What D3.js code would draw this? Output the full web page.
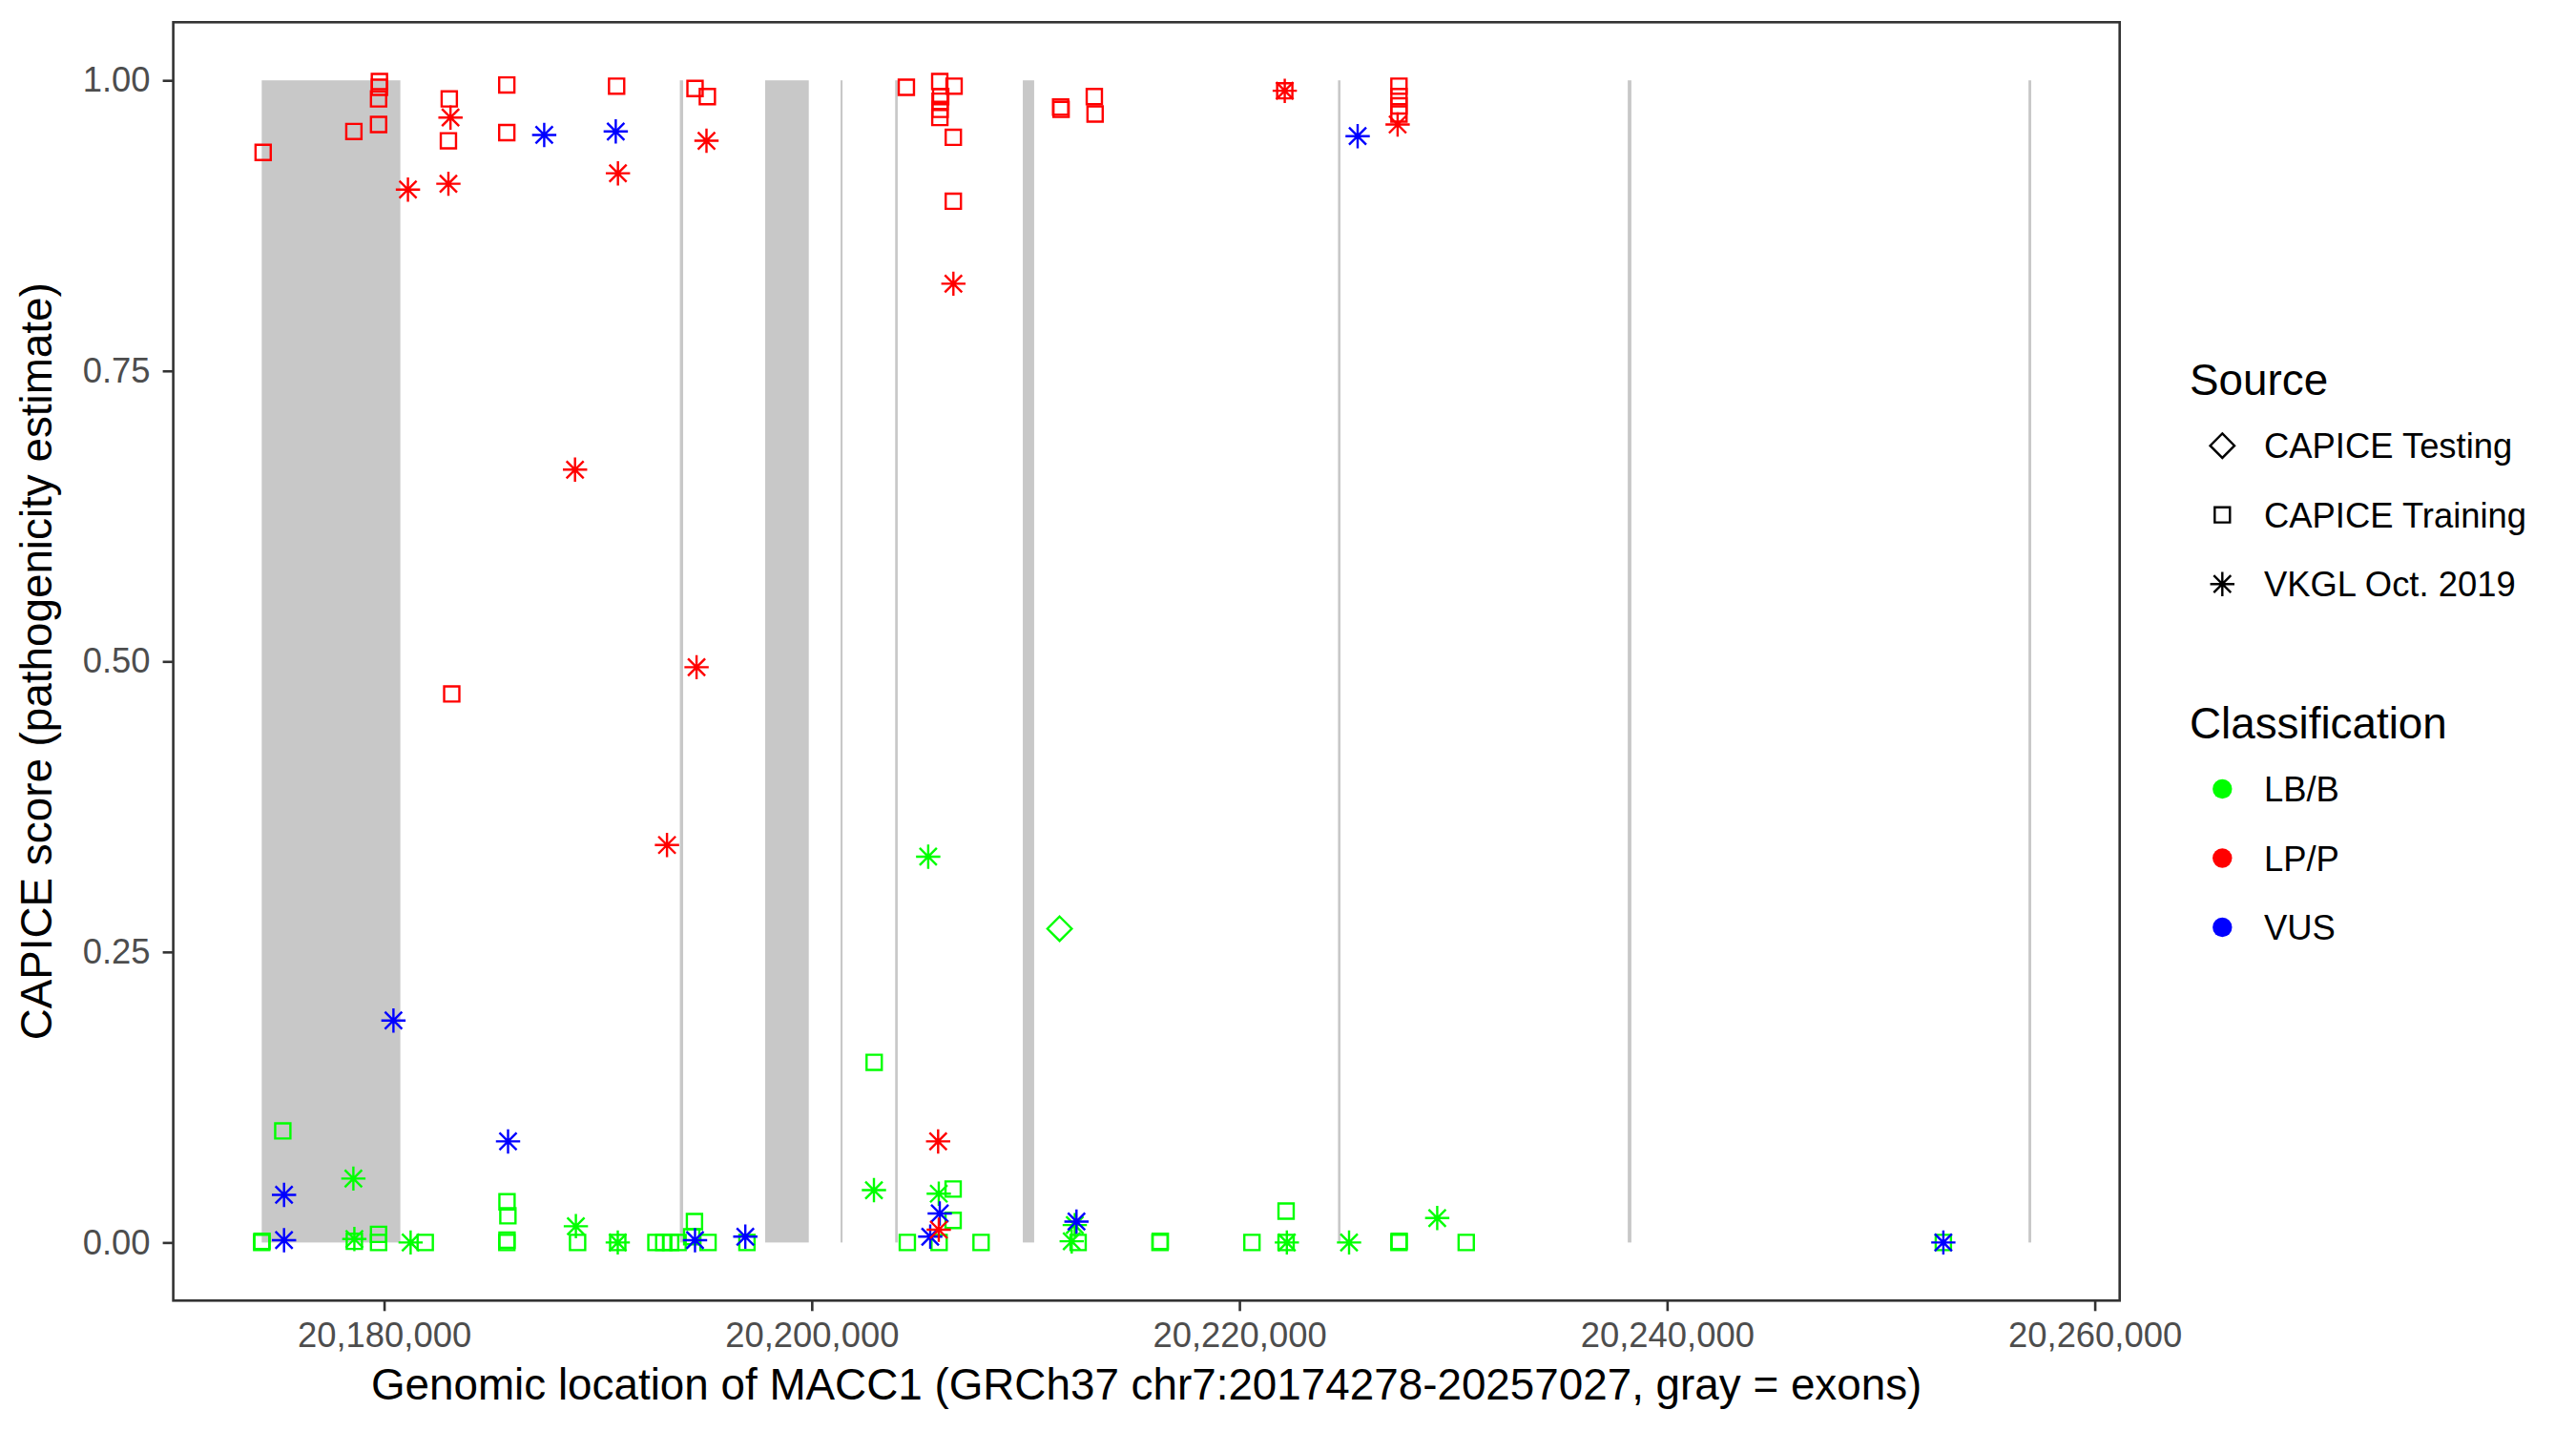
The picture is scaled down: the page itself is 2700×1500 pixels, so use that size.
<!DOCTYPE html>
<html>
<head>
<meta charset="utf-8">
<script src="https://cdn.jsdelivr.net/npm/d3@7"></script>
<style>
	body { margin: 0; background: #fff; }
	text { font-family: "Liberation Sans", Arial, Helvetica, sans-serif; }
</style>
</head>
<body>
<div id="chart"></div>
<script>

// gene region and exons (GRCh37 chr7)
var geneStart = 20174278, geneEnd = 20257027;
var exonStart = [20174278, 20193830, 20197820, 20201345, 20203900, 20209870, 20224610, 20238160, 20256900];
var exonEnd   = [20180760, 20193985, 20199860, 20201440, 20204020, 20210400, 20224725, 20238330, 20257027];

var xTicks = [20180000, 20200000, 20220000, 20240000, 20260000];
var yTicks = [0, 0.25, 0.5, 0.75, 1];

var sources = ["CAPICE Testing", "CAPICE Training", "VKGL Oct. 2019"];
var classes = ["LB/B", "LP/P", "VUS"];

// [position, CAPICE score]
var lbTraining = [
	[20174277, 0.000], [20174290, 0.001], [20175263, 0.096], [20178609, 0.001], [20179742, 0.007],
	[20179742, 0.000], [20181924, 0.000], [20185748, 0.035], [20185790, 0.023], [20185748, 0.002],
	[20185740, 0.000], [20189049, 0.000], [20190928, 0.000], [20192713, 0.000], [20193078, 0.000],
	[20193400, 0.000], [20193748, 0.000], [20194515, 0.018], [20194386, 0.005], [20195149, 0.000],
	[20196969, 0.000], [20202919, 0.155], [20204469, 0.000], [20205955, 0.000], [20206611, 0.046],
	[20206611, 0.019], [20207918, 0.000], [20212456, 0.000], [20216284, 0.000], [20216300, 0.001],
	[20220585, 0.000], [20222182, 0.027], [20222182, 0.000], [20227460, 0.000], [20227470, 0.001],
	[20230606, 0.000], [20252919, 0.000]
];
var lbTesting = [[20211590, 0.270]];
var lbVkgl = [
	[20178564, 0.055], [20178610, 0.003], [20181241, 0.000], [20188969, 0.014], [20190928, 0.000],
	[20202908, 0.045], [20205446, 0.332], [20205940, 0.042], [20212157, 0.001], [20212300, 0.015],
	[20222218, 0.000], [20225127, 0.000], [20229250, 0.021]
];
var lpTraining = [
	[20174344, 0.938], [20178587, 0.956], [20179742, 0.962], [20179742, 0.984], [20179782, 0.999],
	[20179782, 0.994], [20183048, 0.984], [20183008, 0.948], [20183164, 0.472], [20185738, 0.996],
	[20185738, 0.955], [20190874, 0.995], [20194541, 0.993], [20195117, 0.986], [20204424, 0.994],
	[20205986, 0.999], [20206655, 0.995], [20206030, 0.986], [20206000, 0.982], [20206000, 0.975],
	[20205990, 0.968], [20206620, 0.951], [20206620, 0.896], [20211639, 0.977], [20211660, 0.975],
	[20213214, 0.986], [20213250, 0.971], [20222120, 0.991], [20227460, 0.995], [20227460, 0.986],
	[20227460, 0.978], [20227460, 0.971]
];
var lpVkgl = [
	[20183106, 0.968], [20181116, 0.906], [20183008, 0.911], [20190936, 0.920], [20195077, 0.948],
	[20188929, 0.665], [20194613, 0.495], [20193230, 0.342], [20206624, 0.825], [20222120, 0.991],
	[20227398, 0.962], [20205910, 0.087], [20205940, 0.011]
];
var vusVkgl = [
	[20187488, 0.953], [20190834, 0.956], [20225528, 0.952], [20180438, 0.191], [20175321, 0.041],
	[20175321, 0.002], [20185797, 0.087], [20194541, 0.002], [20196893, 0.005], [20205986, 0.025],
	[20205540, 0.005], [20212380, 0.018], [20252919, 0.000]
];


var width = 2700, height = 1500,
	panel = {left: 181.6, right: 2221.7, top: 23.3, bottom: 1363.3},
	R = 9, stroke = 2.4,
	fontBig = 45.8, fontSmall = 36.4;

var colorScale = d3.scaleOrdinal().domain(classes).range(["#00ff00", "#ff0000", "#0000ff"]);

// R pch shapes 5 (diamond), 0 (square), 8 (asterisk)
var pchDiamond = { draw: function(c, s) {
	var r = Math.SQRT2 * R;
	c.moveTo(0, -r); c.lineTo(r, 0); c.lineTo(0, r); c.lineTo(-r, 0); c.closePath();
}};
var pchSquare = { draw: function(c, s) {
	var r = 0.886 * R;
	c.moveTo(-r, -r); c.lineTo(r, -r); c.lineTo(r, r); c.lineTo(-r, r); c.closePath();
}};
var pchStar = { draw: function(c, s) {
	var d = R, r = Math.SQRT2 * R;
	c.moveTo(-d, -d); c.lineTo(d, d);
	c.moveTo(-d, d); c.lineTo(d, -d);
	c.moveTo(-r, 0); c.lineTo(r, 0);
	c.moveTo(0, -r); c.lineTo(0, r);
}};
var shapeScale = d3.scaleOrdinal().domain(sources).range([pchDiamond, pchSquare, pchStar]);

var pad = (geneEnd - geneStart) * 0.05;
var x = d3.scaleLinear().domain([geneStart - pad, geneEnd + pad]).range([panel.left, panel.right]);
var y = d3.scaleLinear().domain([-0.05, 1.05]).range([panel.bottom, panel.top]);

var svg = d3.select("#chart").append("svg")
	.attr("width", width)
	.attr("height", height);

svg.append("rect").attr("width", width).attr("height", height).attr("fill", "#fff");

// exons
svg.append("g").selectAll("rect")
	.data(exonStart.map(function(d, i) { return [d, exonEnd[i]]; }))
	.enter().append("rect")
		.attr("x", function(d) { return x(d[0]); })
		.attr("y", y(1))
		.attr("width", function(d) { return x(d[1]) - x(d[0]); })
		.attr("height", y(0) - y(1))
		.attr("fill", "#c8c8c8");

// points
var series = [
	{data: lbTraining, cls: "LB/B", src: "CAPICE Training"},
	{data: lpTraining, cls: "LP/P", src: "CAPICE Training"},
	{data: lbTesting, cls: "LB/B", src: "CAPICE Testing"},
	{data: lbVkgl, cls: "LB/B", src: "VKGL Oct. 2019"},
	{data: vusVkgl, cls: "VUS", src: "VKGL Oct. 2019"},
	{data: lpVkgl, cls: "LP/P", src: "VKGL Oct. 2019"}
];

series.forEach(function(s) {
	svg.append("g").selectAll("path")
		.data(s.data)
		.enter().append("path")
			.attr("transform", function(d) { return "translate(" + x(d[0]) + "," + y(d[1]) + ")"; })
			.attr("d", d3.symbol().type(shapeScale(s.src)))
			.attr("fill", "none")
			.attr("stroke", colorScale(s.cls))
			.attr("stroke-width", stroke);
});

// panel border
svg.append("rect")
	.attr("x", panel.left).attr("y", panel.top)
	.attr("width", panel.right - panel.left).attr("height", panel.bottom - panel.top)
	.attr("fill", "none").attr("stroke", "#333333").attr("stroke-width", 2.6);

// axes
var xAxis = svg.append("g")
	.attr("transform", "translate(0," + panel.bottom + ")")
	.call(d3.axisBottom(x).tickValues(xTicks).tickFormat(d3.format(",")).tickSize(11).tickPadding(11.4));

var yAxis = svg.append("g")
	.attr("transform", "translate(" + panel.left + ",0)")
	.call(d3.axisLeft(y).tickValues(yTicks).tickFormat(d3.format(".2f")).tickSize(11).tickPadding(13));

[xAxis, yAxis].forEach(function(a) {
	a.select(".domain").remove();
	a.selectAll(".tick line").attr("stroke", "#333333").attr("stroke-width", 2.6);
	a.selectAll(".tick text")
		.attr("fill", "#4d4d4d")
		.style("font-size", fontSmall + "px")
		.style("font-family", "'Liberation Sans', Arial, sans-serif");
});

// axis titles
svg.append("text")
	.attr("x", (panel.left + panel.right) / 2)
	.attr("y", 1467)
	.attr("text-anchor", "middle")
	.style("font-size", fontBig + "px")
	.text("Genomic location of MACC1 (GRCh37 chr7:20174278-20257027, gray = exons)");

svg.append("text")
	.attr("transform", "translate(54," + ((panel.top + panel.bottom) / 2) + ") rotate(-90)")
	.attr("text-anchor", "middle")
	.style("font-size", fontBig + "px")
	.text("CAPICE score (pathogenicity estimate)");

// legends
var legendX = 2295, keyX = 2329.3, labelX = 2373, rowGap = 72.5;

function addLegend(title, titleY, items, drawKey) {

	var g = svg.append("g").attr("class", "legend");

	g.append("text")
		.attr("x", legendX).attr("y", titleY)
		.style("font-size", fontBig + "px")
		.text(title);

	var item = g.selectAll(".legend-item")
		.data(items)
		.enter().append("g")
			.attr("class", "legend-item")
			.attr("transform", function(d, i) { return "translate(0," + (titleY + 53.5 + i * rowGap) + ")"; });

	drawKey(item);

	item.append("text")
		.attr("x", labelX).attr("y", 13)
		.style("font-size", fontSmall + "px")
		.text(function(d) { return d; });
}

addLegend("Source", 413.7, sources, function(item) {
	item.append("path")
		.attr("transform", "translate(" + keyX + ",0)")
		.attr("d", function(d) { return d3.symbol().type(shapeScale(d))(); })
		.attr("fill", "none")
		.attr("stroke", "#000")
		.attr("stroke-width", stroke);
});

addLegend("Classification", 773.5, classes, function(item) {
	item.append("circle")
		.attr("cx", keyX).attr("cy", 0)
		.attr("r", R + stroke / 2)
		.attr("fill", function(d) { return colorScale(d); });
});

</script>
</body>
</html>
